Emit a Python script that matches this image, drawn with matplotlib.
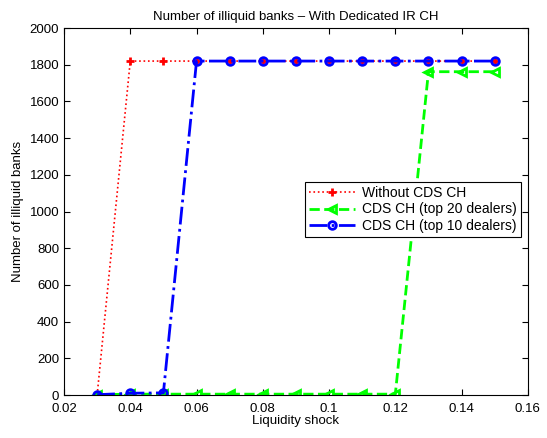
import matplotlib

matplotlib.use('Agg')

import matplotlib.pyplot as plt

plt.rcParams['font.family'] = ['Liberation Sans', 'DejaVu Sans']

shock = [0.03, 0.04, 0.05, 0.06, 0.07, 0.08, 0.09, 0.10, 0.11, 0.12, 0.13, 0.14, 0.15]
without_cds = [0, 1820, 1820, 1820, 1820, 1820, 1820, 1820, 1820, 1820, 1820, 1820, 1820]
top20 = [2, 5, 5, 5, 5, 5, 5, 5, 5, 5, 1762, 1762, 1762]
top10 = [2, 10, 12, 1820, 1820, 1820, 1820, 1820, 1820, 1820, 1820, 1820, 1820]

fig = plt.figure(figsize=(5.47, 4.38), dpi=100)
ax = fig.add_axes([0.117, 0.098, 0.848, 0.838])

ax.plot(shock, without_cds, color='red', linestyle=':', linewidth=1.2,
        marker='+', markersize=6, markeredgewidth=2, label='Without CDS CH')
ax.plot(shock, top20, color=(0, 1, 0), linestyle='--', linewidth=2,
        marker='<', markersize=6, markeredgewidth=2, markerfacecolor='none',
        label='CDS CH (top 20 dealers)')
ax.plot(shock, top10, color='blue', linestyle='-.', linewidth=2,
        marker='o', markersize=5.5, markeredgewidth=2, markerfacecolor='none',
        label='CDS CH (top 10 dealers)')

ax.set_xlim(0.02, 0.16)
ax.set_ylim(0, 2000)
ax.set_xticks([0.02, 0.04, 0.06, 0.08, 0.1, 0.12, 0.14, 0.16])
ax.set_xticklabels(['0.02', '0.04', '0.06', '0.08', '0.1', '0.12', '0.14', '0.16'])
ax.set_yticks(range(0, 2001, 200))
ax.tick_params(direction='in', top=True, right=True, labelsize=9.5, length=4)
ax.tick_params(axis='x', pad=6)
ax.set_xlabel('Liquidity shock', fontsize=9.5, labelpad=0)
ax.set_ylabel('Number of illiquid banks', fontsize=9.5)
ax.set_title('Number of illiquid banks \u2013 With Dedicated IR CH', fontsize=9.5)

leg = ax.legend(loc='upper right', bbox_to_anchor=(0.985, 0.58), fontsize=10,
                fancybox=False, framealpha=1, edgecolor='black',
                borderpad=0.3, labelspacing=0.15, handlelength=3.3,
                handletextpad=0.5, borderaxespad=0)
leg.get_frame().set_linewidth(0.8)

plt.savefig('out.png')
